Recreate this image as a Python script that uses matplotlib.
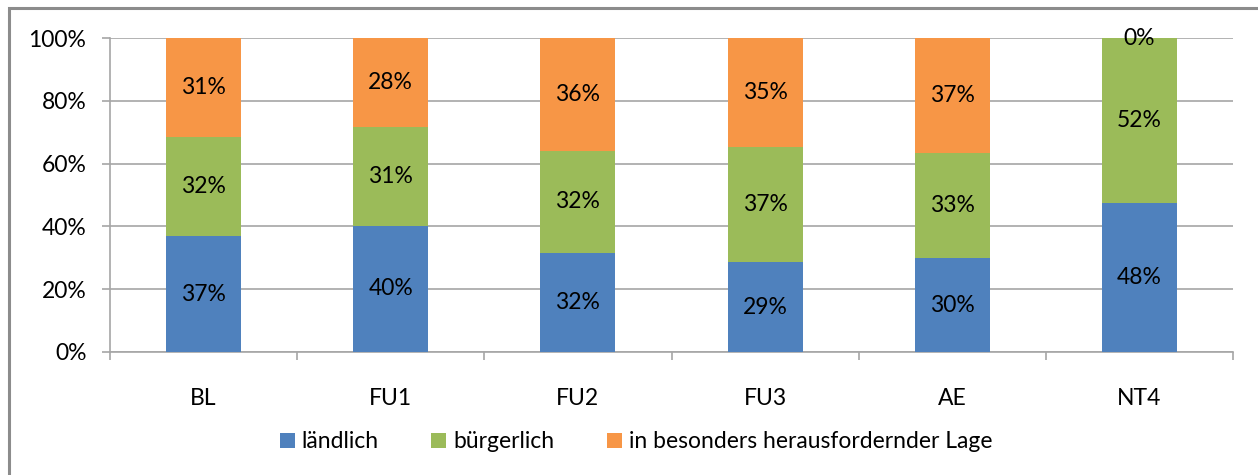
import matplotlib
matplotlib.use("Agg")
import matplotlib.pyplot as plt
from matplotlib.patches import Rectangle
import numpy as np

categories = ["BL", "FU1", "FU2", "FU3", "AE", "NT4"]
laendlich = [36.8, 40.2, 31.6, 28.6, 29.9, 47.6]
buergerlich = [31.8, 31.4, 32.4, 36.7, 33.4, 52.4]
herausfordernd = [31.4, 28.4, 36.0, 34.7, 36.7, 0.0]
series_names = ["ländlich", "bürgerlich", "in besonders herausfordernder Lage"]
colors = ["#4F81BD", "#9BBB59", "#F79646"]
yticks = [0, 20, 40, 60, 80, 100]

plt.rcParams["font.family"] = ["Lato", "DejaVu Sans"]
FS = 16.5

W, H = 1258, 475
fig = plt.figure(figsize=(W / 100, H / 100), dpi=100)
ax = fig.add_axes([110 / W, 1 - 352 / H, (1233 - 110) / W, (352 - 38) / H])

# outer frame
fig.patches.append(Rectangle((9 / W, -0.05), 1.1, 1 - 8 / H + 0.05,
                             transform=fig.transFigure, fill=False,
                             edgecolor="#8C8C8C", linewidth=2.2, zorder=0))

x = np.arange(len(categories))
bottom = np.zeros(len(categories))
for vals, name, col in zip([laendlich, buergerlich, herausfordernd], series_names, colors):
    vals = np.array(vals)
    ax.bar(x, vals, 0.4, bottom=bottom, color=col, label=name, zorder=3)
    for xi, b, v in zip(x, bottom, vals):
        ax.text(xi, b + v / 2, f"{round(v):d}%", ha="center", va="center",
                fontsize=FS, color="black", zorder=4)
    bottom += vals

ax.set_xlim(-0.5, len(categories) - 0.5)
ax.set_ylim(0, 100)
ax.set_yticks(yticks)
ax.set_yticklabels([f"{t}%" for t in yticks], fontsize=FS)
ax.yaxis.grid(True, color="#A6A6A6", linewidth=1.2, zorder=0)
ax.set_axisbelow(True)

ax.set_xticks(x)
ax.set_xticklabels(categories, fontsize=FS)
ax.tick_params(axis="x", length=0, pad=26)
ax.set_xticks(np.arange(-0.5, len(categories) + 0.5, 1), minor=True)
ax.tick_params(axis="x", which="minor", length=6, color="#A6A6A6", width=1.2)
ax.tick_params(axis="y", length=6, color="#A6A6A6", width=1.2, pad=11)

for s in ["top", "right"]:
    ax.spines[s].set_visible(False)
for s in ["left", "bottom"]:
    ax.spines[s].set_color("#A6A6A6")
    ax.spines[s].set_linewidth(1.2)

leg = fig.legend(loc="center", bbox_to_anchor=(636 / W, 1 - 442 / H), ncol=3,
                 frameon=False, fontsize=FS, handlelength=0.65, handleheight=0.65,
                 handletextpad=0.3, columnspacing=2.3)

fig.savefig("out.png", dpi=100)
